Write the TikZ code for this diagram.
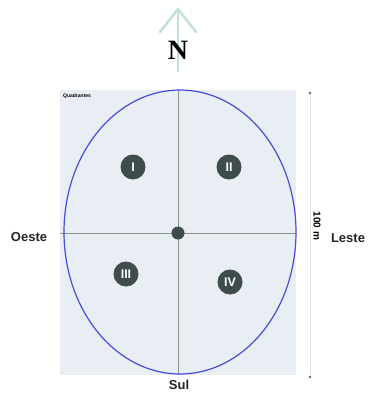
\documentclass[tikz,border=0pt]{standalone}
\usepackage{fontspec}
\setmainfont{Liberation Sans}
\newfontfamily\serifbold{Liberation Serif}
\usetikzlibrary{arrows.meta}
\definecolor{panel}{RGB}{233,238,244}
\definecolor{ellblue}{RGB}{70,75,220}
\definecolor{axis}{RGB}{135,150,140}
\definecolor{quad}{RGB}{62,76,76}
\definecolor{arrowc}{RGB}{195,225,218}
\definecolor{scalec}{RGB}{220,233,238}
\tikzset{
  quadmark/.style={circle,fill=quad,minimum size=25pt,inner sep=0pt,text=white,font=\bfseries\fontsize{12.5}{12.5}\selectfont},
  dirlabel/.style={font=\bfseries\fontsize{13}{13}\selectfont,text=black!85,inner sep=1pt},
}
\begin{document}
\begin{tikzpicture}[x=1pt,y=-1pt]
\useasboundingbox (0,0) rectangle (369,393);
\fill[white] (0,0) rectangle (369,393);
% panel
\fill[panel] (60,90) rectangle (296,375);
\coordinate (pl) at (60,233);
\coordinate (pr) at (296,233);
\coordinate (pt) at (178,90);
\coordinate (pb) at (178,375);
\draw[axis,line width=0.6pt] (pl) -- (pr);
\draw[axis,line width=0.6pt] (pt) -- (pb);
% ellipse
\draw[ellblue,line width=1.2pt] (180,232) ellipse [x radius=116,y radius=142];
% quadrant marks
\node[quadmark] (q1) at (133,167) {I};
\node[quadmark] (q2) at (229,167) {II};
\node[quadmark] (q3) at (126,274) {III};
\node[quadmark] (q4) at (230,282) {IV};
\node[circle,fill=quad,minimum size=13pt,inner sep=0pt] (c) at (178,233) {};
% title
\node[anchor=west,inner sep=0pt,font=\bfseries\fontsize{5}{5}\selectfont] (title) at (63,96) {Quadrantes};
% north arrow
\coordinate (na) at (178,72);
\coordinate (nb) at (178,9);
\draw[arrowc,line width=2.5pt] (na) -- (nb);
\draw[arrowc,line width=2.5pt,line cap=round,line join=round] (160,32) -- (nb) -- (196,32);
\node[font=\serifbold\bfseries\fontsize{28}{28}\selectfont,inner sep=0pt] (N) at (178,50) {N};
% direction labels
\node[dirlabel] (oeste) at (29,237) {Oeste};
\node[dirlabel] (leste) at (348,238) {Leste};
\node[dirlabel] (sul) at (179,385) {Sul};
% scale bar
\coordinate (s1) at (310,93);
\coordinate (s2) at (310,377);
\draw[scalec,line width=0.8pt] (s1) -- (s2);
\fill[axis!70!black] (s1) circle (1.3pt) (s2) circle (1.3pt);
\node[font=\bfseries\fontsize{10}{10}\selectfont,rotate=-90,fill=white,inner sep=1pt] (scale) at (317,226) {100 m};
\end{tikzpicture}
\end{document}
